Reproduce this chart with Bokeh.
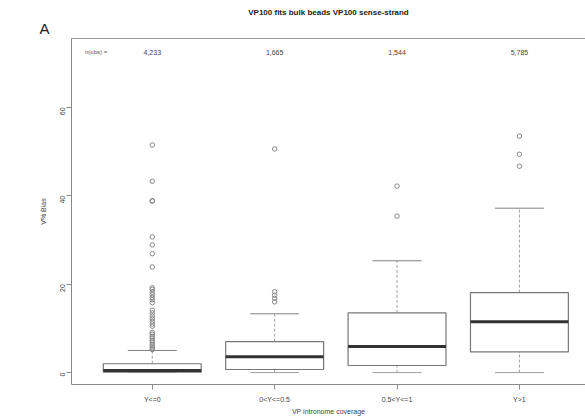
from bokeh.plotting import figure
from bokeh.models import LinearAxis, Label, FixedTicker, Range1d, Title
from bokeh.embed import file_html
from bokeh.resources import INLINE
from bokeh.core.properties import value

# ---- data ----
groups = [1, 2, 3, 4]
group_labels = ["Y<=0", "0<Y<=0.5", "0.5<Y<=1", "Y>1"]
n_labels = ["4,233", "1,665", "1,544", "5,785"]
q1 = [0.1, 0.7, 1.6, 4.7]
median = [0.45, 3.6, 5.9, 11.5]
q3 = [2.0, 7.0, 13.5, 18.1]
low_whisker = [0.0, 0.0, 0.0, 0.0]
high_whisker = [5.0, 13.3, 25.3, 37.2]
outliers_g1 = [5.2, 5.6, 6.0, 6.4, 6.9, 7.3, 7.8, 8.2, 8.7, 9.1, 10.5, 11.0,
               11.6, 12.2, 12.8, 13.5, 14.1, 15.8, 16.5, 17.0, 17.6, 18.2,
               18.8, 19.2, 23.9, 26.9, 28.9, 30.7, 38.8, 38.9, 43.3, 51.5]
outliers_g2 = [16.0, 16.8, 17.5, 18.3, 50.6]
outliers_g3 = [35.4, 42.2]
outliers_g4 = [46.7, 49.4, 53.5]
y_ticks = [0, 20, 40, 60]
n_row_y = 72.5

FONT = "Liberation Sans"

p = figure(width=585, height=417, output_backend="svg", toolbar_location=None,
           x_range=Range1d(0.34, 4.54), y_range=Range1d(-2.7, 75.6),
           min_border_left=71, min_border_right=0, min_border_top=38,
           min_border_bottom=32)
p.background_fill_color = "white"
p.border_fill_color = "white"
p.outline_line_color = None
p.xgrid.visible = False
p.ygrid.visible = False

# axes
for ax in (p.xaxis[0], p.yaxis[0]):
    ax.axis_line_color = "#8a8a8a"
    ax.major_tick_line_color = "#8a8a8a"
    ax.minor_tick_line_color = None
    ax.major_tick_out = 5
    ax.major_tick_in = 0
    ax.major_label_text_font = FONT
    ax.major_label_text_font_size = "7px"
    ax.major_label_text_color = "#444444"
    ax.axis_label_text_font = FONT
    ax.axis_label_text_font_size = "7px"
    ax.axis_label_text_font_style = "normal"
    ax.axis_label_text_color = "#444444"

p.xaxis.ticker = FixedTicker(ticks=groups)
p.xaxis.major_label_overrides = {g: l for g, l in zip(groups, group_labels)}
p.xaxis.axis_label = "VP intronome coverage"
p.xaxis.major_label_standoff = 6
p.xaxis.axis_label_standoff = 2

p.yaxis.ticker = FixedTicker(ticks=y_ticks)
p.yaxis.axis_label = "V% Bias"
p.yaxis.major_label_standoff = 4
p.yaxis.axis_label_standoff = 8
p.yaxis.major_label_orientation = 1.5708

top_axis = LinearAxis(axis_line_color="#9a9a9a", major_tick_line_color=None,
                      minor_tick_line_color=None, major_label_text_font_size="0px",
                      major_label_standoff=0, ticker=FixedTicker(ticks=[]))
p.add_layout(top_axis, "above")

# panel letter and title, stacked above the frame
p.add_layout(Title(text="A", align="left", offset=-32, standoff=3,
                   text_font=FONT, text_font_size="15px", text_font_style="normal",
                   text_color="#222222"), "above")
p.add_layout(Title(text="VP100 fits bulk beads VP100 sense-strand", align="center",
                   standoff=0, text_font=FONT, text_font_size="8px",
                   text_font_style="bold", text_color="#222222"), "above")

# whiskers (dashed)
p.segment(x0=groups, y0=q3, x1=groups, y1=high_whisker, line_color="#a0a0a0",
          line_dash="3 2", line_width=1)
p.segment(x0=groups, y0=low_whisker, x1=groups, y1=q1, line_color="#a0a0a0",
          line_dash="3 2", line_width=1)
# whisker caps
p.segment(x0=[g - 0.2 for g in groups], y0=high_whisker,
          x1=[g + 0.2 for g in groups], y1=high_whisker, line_color="#808080", line_width=1)
p.segment(x0=[g - 0.2 for g in groups], y0=low_whisker,
          x1=[g + 0.2 for g in groups], y1=low_whisker, line_color="#a0a0a0", line_width=1)
# boxes
p.vbar(x=groups, width=0.8, bottom=q1, top=q3, fill_color="white",
       line_color="#777777", line_width=1.2)
# medians
p.segment(x0=[g - 0.4 for g in groups], y0=median,
          x1=[g + 0.4 for g in groups], y1=median, line_color="#333333", line_width=3)

# outliers
for g, outs in zip(groups, [outliers_g1, outliers_g2, outliers_g3, outliers_g4]):
    p.scatter(x=[g] * len(outs), y=outs, marker="circle", size=4.5,
              fill_color=None, line_color="#888888", line_width=1)

# n row
p.text(x=groups, y=[n_row_y] * 4, text=n_labels, text_font=value(FONT),
       text_font_size="7px", text_color="#444444", text_align="center",
       text_baseline="middle")
p.add_layout(Label(x=0.45, y=n_row_y, text="n(obs) =", text_font=FONT,
                   text_font_size="6px", text_color="#555555",
                   text_baseline="middle"))

open("out.html", "w").write(file_html(p, INLINE))
